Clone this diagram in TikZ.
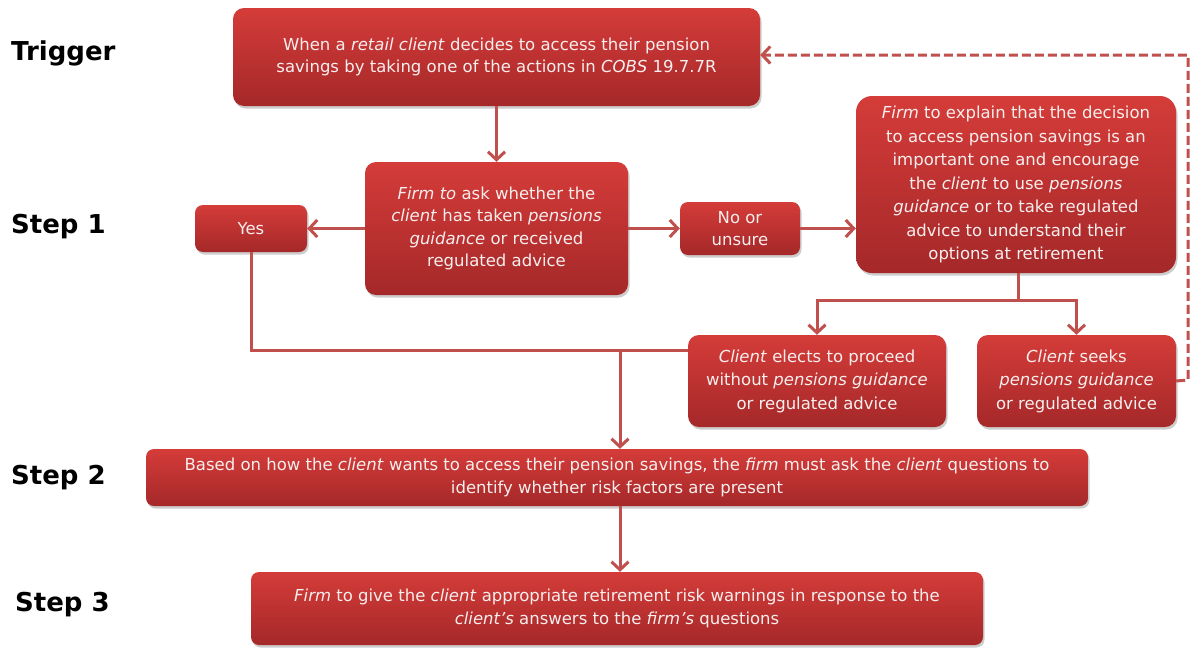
\documentclass[tikz,border=0pt]{standalone}
\usepackage{fontspec}
\setmainfont{DejaVu Sans}
\usetikzlibrary{arrows.meta,shadows}
\definecolor{boxtop}{HTML}{D43C39}
\definecolor{boxbot}{HTML}{A52829}
\definecolor{conn}{HTML}{C0504D}
\definecolor{txt}{HTML}{F7EEEE}
\tikzset{
  fbox/.style={rounded corners=11pt, top color=boxtop, bottom color=boxbot, draw=none,
    text=txt, align=center, inner sep=0pt,
    font=\fontsize{16.5}{22.5}\selectfont,
    drop shadow={opacity=0.4, shadow xshift=1.5pt, shadow yshift=-2.5pt}},
  loosebox/.style={fbox, font=\fontsize{16.5}{23.5}\selectfont},
  steplabel/.style={anchor=west, font=\bfseries\fontsize{26}{28}\selectfont, text=black, inner sep=0pt},
  conline/.style={draw=conn, line width=3pt},
  conarrow/.style={conline, -{Straight Barb[length=8pt,width=17pt,line width=3pt]}},
}
\begin{document}
\begin{tikzpicture}[x=1pt,y=-1pt]
\useasboundingbox (0,0) rectangle (1191,648);
\fill[white] (0,0) rectangle (1191,648);

% step labels
\node[steplabel] (lt) at (11,53) {Trigger};
\node[steplabel] (l1) at (11,227) {Step 1};
\node[steplabel] (l2) at (11,478) {Step 2};
\node[steplabel] (l3) at (15,605) {Step 3};

% boxes
\node[fbox, minimum width=527pt, minimum height=98pt] (trig) at (496.5,57)
  {When a \textit{retail client} decides to access their pension\\savings by taking one of the actions in \textit{COBS} 19.7.7R};
\node[fbox, minimum width=263pt, minimum height=133pt] (q) at (496.5,228.5)
  {\textit{Firm to} ask whether the\\\textit{client} has taken \textit{pensions}\\\textit{guidance} or received\\regulated advice};
\node[fbox, rounded corners=8pt, minimum width=112pt, minimum height=47pt] (yes) at (251,228.5) {Yes};
\node[fbox, rounded corners=8pt, minimum width=120pt, minimum height=53pt] (no) at (740,228.5) {No or\\unsure};
\node[loosebox, rounded corners=16pt, minimum width=320pt, minimum height=177pt] (expl) at (1016,184.5)
  {\textit{Firm} to explain that the decision\\to access pension savings is an\\important one and encourage\\the \textit{client} to use \textit{pensions}\\\textit{guidance} or to take regulated\\advice to understand their\\options at retirement};
\node[loosebox, minimum width=258pt, minimum height=92pt] (elect) at (817,381)
  {\textit{Client} elects to proceed\\without \textit{pensions guidance}\\or regulated advice};
\node[loosebox, minimum width=199pt, minimum height=92pt] (seek) at (1076.5,381)
  {\textit{Client} seeks\\\textit{pensions guidance}\\or regulated advice};
\node[fbox, rounded corners=8pt, minimum width=942pt, minimum height=57pt] (s2) at (617,477.5)
  {Based on how the \textit{client} wants to access their pension savings, the \textit{firm} must ask the \textit{client} questions to\\identify whether risk factors are present};
\node[fbox, rounded corners=8pt, minimum width=732pt, minimum height=73pt] (s3) at (617,608.5)
  {\textit{Firm} to give the \textit{client} appropriate retirement risk warnings in response to the\\\textit{client's} answers to the \textit{firm's} questions};

% helper coordinates
\coordinate (split) at (1018,300);
\coordinate (join) at (620,350);
\coordinate (dashR) at (1188,380);
\coordinate (dashT) at (1188,55);

% connectors
\draw[conarrow] (trig.south) -- (q.north);
\draw[conarrow] (q.west) -- (yes.east);
\draw[conarrow] (q.east) -- (no.west);
\draw[conarrow] (no.east) -- (expl.west |- no.east);
\draw[conline] (expl.south -| split) -- (split);
\draw[conarrow] (split) -| (elect.north);
\draw[conarrow] (split) -| (seek.north);
\draw[conline] (yes.south) |- (elect.west |- join);
\draw[conarrow] (join) -- (s2.north -| join);
\draw[conarrow] (s2.south -| join) -- (s3.north -| join);
\draw[conarrow, dash pattern=on 9pt off 4pt] (seek.east) -- (dashR) -- (dashT) -- (trig.east |- dashT);
\end{tikzpicture}
\end{document}
